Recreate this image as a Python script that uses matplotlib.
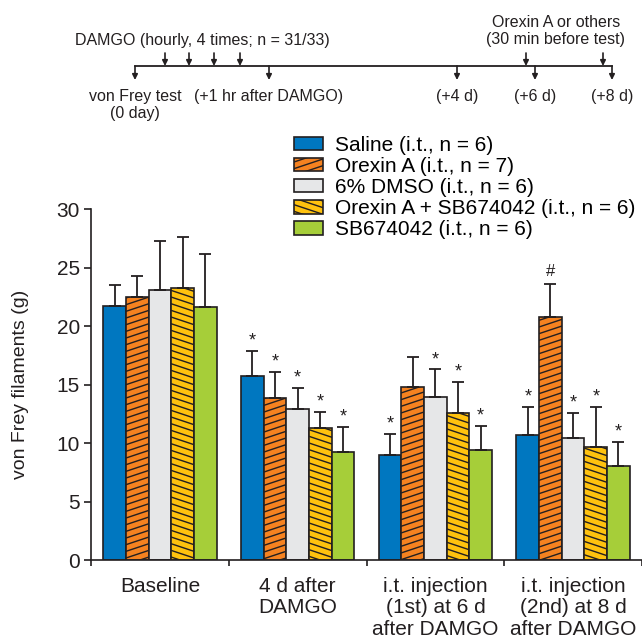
import numpy as np
import matplotlib
matplotlib.use("Agg")
import matplotlib.pyplot as plt
import matplotlib.hatch as mhatch
from matplotlib.path import Path
from matplotlib.patches import Patch

# data
groups = ["Baseline", "4 d after\nDAMGO", "i.t. injection\n(1st) at 6 d\nafter DAMGO",
          "i.t. injection\n(2nd) at 8 d\nafter DAMGO"]
series = ["Saline (i.t., n = 6)", "Orexin A (i.t., n = 7)", "6% DMSO (i.t., n = 6)",
          "Orexin A + SB674042 (i.t., n = 6)", "SB674042 (i.t., n = 6)"]
saline = [21.7, 15.75, 9.0, 10.7]
orexin = [22.5, 13.9, 14.8, 20.8]
dmso = [23.1, 12.9, 13.95, 10.4]
orexin_sb = [23.3, 11.25, 12.6, 9.65]
sb = [21.65, 9.2, 9.4, 8.05]
saline_err = [1.8, 2.15, 1.75, 2.4]
orexin_err = [1.8, 2.2, 2.6, 2.8]
dmso_err = [4.2, 1.8, 2.35, 2.2]
orexin_sb_err = [4.3, 1.45, 2.6, 3.45]
sb_err = [4.55, 2.2, 2.1, 2.05]
# significance marks per series, per group
saline_sig = ["", "*", "*", "*"]
orexin_sig = ["", "*", "", "#"]
dmso_sig = ["", "*", "*", "*"]
orexin_sb_sig = ["", "*", "*", "*"]
sb_sig = ["", "*", "*", "*"]

# timeline above the plot
damgo_text = "DAMGO (hourly, 4 times; n = 31/33)"
drug_text = "Orexin A or others\n(30 min before test)"
test_labels = ["von Frey test\n(0 day)", "(+1 hr after DAMGO)", "(+4 d)", "(+6 d)", "(+8 d)"]
test_x = [135, 269, 457, 535, 612]
damgo_x = [165, 189, 214, 240]
drug_x = [526, 603]

W, H = 642, 640
INK = "#231f20"
colors = ["#0077c0", "#f58220", "#e6e7e8", "#ffc20e", "#a6ce39"]
hatches = ["", "/", "", "\\", ""]

# shallow hatch lines like the original figure
HN, HM = 15, 5


class ShallowNE(mhatch.HatchPatternBase):
    char = "/"
    sign = 1

    def __init__(self, hatch, density):
        self.num_lines = HN + HM + 1 if hatch.count(self.char) else 0
        self.num_vertices = 2 * self.num_lines

    def set_vertices_and_codes(self, vertices, codes):
        i = np.arange(self.num_lines)
        y0 = (i - HM) / HN
        y1 = i / HN
        if self.sign < 0:
            y0, y1 = y1, y0
        vertices[0::2, 0] = 0.0
        vertices[0::2, 1] = y0
        vertices[1::2, 0] = 1.0
        vertices[1::2, 1] = y1
        codes[0::2] = Path.MOVETO
        codes[1::2] = Path.LINETO


class ShallowSE(ShallowNE):
    char = "\\"
    sign = -1


ht = mhatch._hatch_types
ht[ht.index(mhatch.NorthEastHatch)] = ShallowNE
ht[ht.index(mhatch.SouthEastHatch)] = ShallowSE

plt.rcParams["font.family"] = ["Liberation Sans", "DejaVu Sans"]
plt.rcParams["hatch.linewidth"] = 1.0
plt.rcParams["hatch.color"] = INK


def fp(x, y):
    return (x / W, 1 - y / H)


fig = plt.figure(figsize=(W / 100, H / 100), dpi=100)
ax = fig.add_axes([91 / W, 80 / H, 551 / W, 350.7 / H])

means = [saline, orexin, dmso, orexin_sb, sb]
errs = [saline_err, orexin_err, dmso_err, orexin_sb_err, sb_err]
sigs = [saline_sig, orexin_sig, dmso_sig, orexin_sb_sig, sb_sig]
xg = np.arange(len(groups))
bw = 0.1645

handles = []
for k in range(5):
    x = xg + (k - 2) * bw
    ax.bar(x, means[k], bw, color=colors[k], edgecolor=INK, linewidth=1.2,
           hatch=hatches[k], zorder=2)
    ax.errorbar(x, means[k], yerr=[np.zeros(4), errs[k]], fmt="none", ecolor=INK,
                elinewidth=1.3, capsize=4, capthick=1.3, zorder=3)
    for xi, m, e, s in zip(x, means[k], errs[k], sigs[k]):
        if s:
            ax.annotate(s, (xi, m + e), xytext=(0, 1 if s == "*" else 4),
                        textcoords="offset points", ha="center", va="bottom",
                        fontsize=13 if s == "*" else 12, color=INK)
    handles.append(Patch(facecolor=colors[k], edgecolor=INK, linewidth=1.2,
                         hatch=hatches[k], label=series[k]))

ax.set_xlim(-0.5, 3.5)
ax.set_ylim(0, 30)
ax.set_yticks([0, 5, 10, 15, 20, 25, 30])
ax.tick_params(axis="y", direction="out", length=5, width=1.2, labelsize=15,
               colors=INK, pad=3)
ax.set_xticks(xg)
ax.set_xticklabels(groups, fontsize=15, linespacing=1.17, color=INK)
ax.tick_params(axis="x", which="major", length=0, pad=12)
ax.set_xticks(np.arange(-0.5, 4.0, 1.0), minor=True)
ax.tick_params(axis="x", which="minor", direction="out", length=4, width=1.2,
               colors=INK)
for side in ["top", "right"]:
    ax.spines[side].set_visible(False)
for side in ["left", "bottom"]:
    ax.spines[side].set_linewidth(1.2)
    ax.spines[side].set_color(INK)
ax.set_ylabel("von Frey filaments (g)", fontsize=14, color=INK)
ax.yaxis.set_label_coords(-0.112, 0.5)

ax.legend(handles=handles, loc="upper left", bbox_to_anchor=fp(294, 136),
          bbox_transform=fig.transFigure, frameon=False, fontsize=15,
          handlelength=1.4, handleheight=0.6, handletextpad=0.55,
          labelspacing=0.1, borderpad=0, borderaxespad=0)

# timeline
tl_y = 66
fig.add_artist(plt.Line2D([fp(test_x[0], 0)[0], fp(test_x[-1], 0)[0]],
                          [fp(0, tl_y)[1]] * 2, color=INK, lw=1.3,
                          transform=fig.transFigure))
arrow = dict(arrowstyle="-|>", lw=1.2, color=INK, mutation_scale=8,
             shrinkA=0, shrinkB=0)
for x in damgo_x + drug_x:
    fig.add_artist(plt.Annotation("", xy=fp(x, tl_y), xytext=fp(x, 53),
                                  xycoords=fig.transFigure, arrowprops=arrow))
for x in test_x:
    fig.add_artist(plt.Annotation("", xy=fp(x, 80), xytext=fp(x, tl_y),
                                  xycoords=fig.transFigure, arrowprops=arrow))
for x, lab in zip(test_x, test_labels):
    fig.text(*fp(x, 89), lab, ha="center", va="top", fontsize=11.5,
             linespacing=1.15, color=INK)
fig.text(*fp(202, 40), damgo_text, ha="center", va="center", fontsize=11.5, color=INK)
fig.text(*fp(556, 31), drug_text, ha="center", va="center", fontsize=11.5,
         linespacing=1.15, color=INK)

fig.savefig("out.png", dpi=100)
